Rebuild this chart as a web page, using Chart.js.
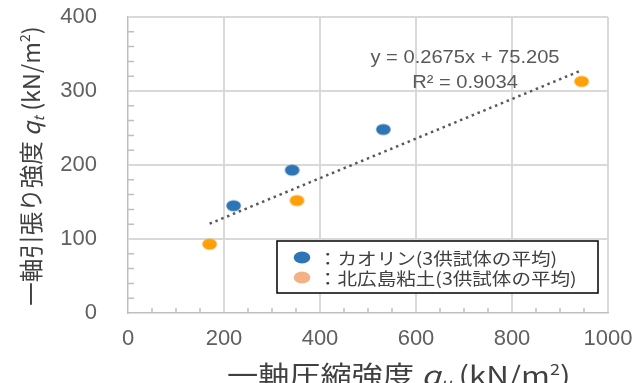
<!DOCTYPE html>
<html>
<head>
<meta charset="utf-8">
<script src="https://cdn.jsdelivr.net/npm/chart.js@4.4.1/dist/chart.umd.min.js"></script>
<style>
  html, body { margin: 0; padding: 0; background: #ffffff; }
  #wrap { width: 636px; height: 383px; }
</style>
</head>
<body>
<div id="wrap"><canvas id="c" width="636" height="383"></canvas></div>
<script>
// Series: mean of three specimens for each soil
const kaolinLabel = 'カオリン(3供試体の平均)';
const hiroshimaLabel = '北広島粘土(3供試体の平均)';
const kaolinQu = [220, 342, 532];      // unconfined compressive strength qu (kN/m²)
const kaolinQt = [145, 193, 248];      // uniaxial tensile strength qt (kN/m²)
const hiroshimaQu = [170, 352, 945];
const hiroshimaQt = [93, 152, 313];

// Linear trend over both soils
const trendCoef = [0.2675, 75.205];    // slope, intercept
const trendR2 = [0.9034];

// Axis ticks
const xTickValues = [0, 200, 400, 600, 800, 1000];
const yTickValues = [0, 100, 200, 300, 400];

const BLUE = '#2E75B6';
const ORANGE = '#FFA00A';
const LEGEND_COLORS = ['#2E75B6', '#F4B183'];
const JP = '"Noto Sans CJK JP", "Noto Sans", sans-serif';

function ellipseMarker(color, rx, ry) {
  const c = document.createElement('canvas');
  c.width = Math.ceil(rx * 2 + 2);
  c.height = Math.ceil(ry * 2 + 2);
  const g = c.getContext('2d');
  g.fillStyle = color;
  g.beginPath();
  g.ellipse(c.width / 2, c.height / 2, rx, ry, 0, 0, Math.PI * 2);
  g.fill();
  return c;
}

const toPoints = (xs, ys) => xs.map((v, i) => ({ x: v, y: ys[i] }));
const quAll = kaolinQu.concat(hiroshimaQu);
const trendX = [Math.min(...quAll), Math.max(...quAll)];
const trendPts = trendX.map(v => ({ x: v, y: trendCoef[0] * v + trendCoef[1] }));

// Draws a sequence of differently styled text runs on one baseline
function measureRuns(ctx, runs) {
  let w = 0;
  for (const r of runs) { ctx.font = r.font; w += ctx.measureText(r.text).width; }
  return w;
}
function drawRuns(ctx, runs, x, y) {
  let cx = x;
  for (const r of runs) {
    ctx.font = r.font;
    ctx.fillText(r.text, cx, y + (r.dy || 0));
    cx += ctx.measureText(r.text).width;
  }
}

const minorTicks = {
  id: 'minorTicks',
  beforeDatasetsDraw(chart) {
    const { ctx, chartArea: a, scales: { x, y } } = chart;
    ctx.save();
    ctx.strokeStyle = '#BFBFBF';
    ctx.lineWidth = 1.5;
    ctx.beginPath();
    for (let v = 50; v < 1000; v += 50) {
      if (v % 200 === 0) continue;
      const px = x.getPixelForValue(v);
      ctx.moveTo(px, a.bottom); ctx.lineTo(px, a.bottom - 5);
    }
    for (let v = 20; v < 400; v += 20) {
      if (v % 100 === 0) continue;
      const py = y.getPixelForValue(v);
      ctx.moveTo(a.left, py); ctx.lineTo(a.left + 6, py);
    }
    ctx.stroke();
    ctx.restore();
  }
};

const annotations = {
  id: 'annotations',
  afterDatasetsDraw(chart) {
    const ctx = chart.ctx;
    ctx.save();

    // trend equation
    ctx.fillStyle = '#595959';
    ctx.textAlign = 'center';
    ctx.textBaseline = 'middle';
    ctx.font = '17.5px "Liberation Sans", Arial, sans-serif';
    const eqLines = [
      'y = ' + trendCoef[0] + 'x + ' + trendCoef[1],
      'R² = ' + trendR2[0]
    ];
    [[465, 58], [465, 83]].forEach((p, i) => {
      ctx.save();
      ctx.translate(p[0], p[1]);
      ctx.scale(1.15, 1);
      ctx.fillText(eqLines[i], 0, 0);
      ctx.restore();
    });

    // legend box
    ctx.fillStyle = '#ffffff';
    ctx.fillRect(277, 241, 321, 52);
    ctx.strokeStyle = '#000000';
    ctx.lineWidth = 1.5;
    ctx.strokeRect(277, 241, 321, 52);
    const labels = [kaolinLabel, hiroshimaLabel];
    [257.5, 277.5].forEach((yy, i) => {
      ctx.fillStyle = LEGEND_COLORS[i];
      ctx.beginPath();
      ctx.ellipse(302, yy, 8.3, 5.9, 0, 0, Math.PI * 2);
      ctx.fill();
      ctx.save();
      ctx.translate(318, yy + 1);
      ctx.scale(1.15, 1);
      ctx.fillStyle = '#404040';
      ctx.textAlign = 'left';
      ctx.textBaseline = 'middle';
      ctx.font = '17px ' + JP;
      ctx.fillText('：' + labels[i], 0, 0);
      ctx.restore();
    });

    // axis titles
    ctx.fillStyle = '#404040';
    ctx.textAlign = 'left';
    ctx.textBaseline = 'alphabetic';
    const big = 26, small = 15;
    const xRuns = [
      { text: '一軸圧縮強度 ', font: big + 'px ' + JP },
      { text: 'q', font: 'italic ' + big + 'px ' + JP },
      { text: 'u', font: 'italic ' + small + 'px ' + JP, dy: 4 },
      { text: ' (kN/m', font: big + 'px ' + JP },
      { text: '2', font: small + 'px ' + JP, dy: -10 },
      { text: ')', font: big + 'px ' + JP }
    ];
    ctx.save();
    ctx.translate(227, 385);
    ctx.scale(1.2, 1);
    drawRuns(ctx, xRuns, 0, 0);
    ctx.restore();

    const yb = 23.5, ys = 14;
    const yRuns = [
      { text: '一軸引張り強度 ', font: yb + 'px ' + JP },
      { text: 'q', font: 'italic ' + yb + 'px ' + JP },
      { text: 't', font: 'italic ' + ys + 'px ' + JP, dy: 4 },
      { text: ' (kN/m', font: yb + 'px ' + JP },
      { text: '2', font: ys + 'px ' + JP, dy: -10 },
      { text: ')', font: yb + 'px ' + JP }
    ];
    const yw = measureRuns(ctx, yRuns);
    ctx.save();
    ctx.translate(40, 166);
    ctx.rotate(-Math.PI / 2);
    drawRuns(ctx, yRuns, -yw / 2, 0);
    ctx.restore();

    ctx.restore();
  }
};

const tickFont = { family: '"Liberation Sans", Arial, sans-serif', size: 22 };

new Chart(document.getElementById('c'), {
  type: 'scatter',
  data: {
    datasets: [
      {
        label: kaolinLabel,
        data: toPoints(kaolinQu, kaolinQt),
        pointStyle: ellipseMarker(BLUE, 7.3, 5.6),
        pointRadius: 7,
        backgroundColor: BLUE,
        borderWidth: 0,
        order: 1
      },
      {
        label: hiroshimaLabel,
        data: toPoints(hiroshimaQu, hiroshimaQt),
        pointStyle: ellipseMarker(ORANGE, 7.3, 5.6),
        pointRadius: 7,
        backgroundColor: ORANGE,
        borderWidth: 0,
        order: 1
      },
      {
        type: 'line',
        label: 'trend',
        data: trendPts,
        borderColor: '#595959',
        borderWidth: 2.5,
        borderDash: [2.5, 3.8],
        borderCapStyle: 'butt',
        pointRadius: 0,
        fill: false,
        order: 2
      }
    ]
  },
  options: {
    responsive: false,
    animation: false,
    events: [],
    layout: { padding: { left: 0, right: 28, top: 17, bottom: 0 } },
    plugins: { legend: { display: false }, tooltip: { enabled: false }, title: { display: false } },
    scales: {
      x: {
        type: 'linear',
        min: 0, max: 1000,
        afterBuildTicks: s => { s.ticks = xTickValues.map(v => ({ value: v })); },
        afterFit: s => { s.height = 70; s.paddingLeft = 0; s.paddingRight = 0; },
        grid: {
          color: c => (c.tick && c.tick.value === 0 ? 'rgba(0,0,0,0)' : '#D9D9D9'),
          lineWidth: 2,
          drawTicks: false
        },
        border: { color: '#BFBFBF', width: 1.5 },
        ticks: { font: tickFont, color: '#606060', padding: 13, maxRotation: 0, callback: v => String(v) }
      },
      y: {
        type: 'linear',
        min: 0, max: 400,
        afterBuildTicks: s => { s.ticks = yTickValues.map(v => ({ value: v })); },
        afterFit: s => { s.width = 128; s.paddingTop = 0; s.paddingBottom = 0; },
        grid: {
          color: c => (c.tick && c.tick.value === 0 ? 'rgba(0,0,0,0)' : '#D9D9D9'),
          lineWidth: 2,
          drawTicks: false
        },
        border: { color: '#BFBFBF', width: 1.5 },
        ticks: { font: tickFont, color: '#606060', padding: 31, callback: v => String(v) }
      }
    }
  },
  plugins: [minorTicks, annotations]
});
</script>
</body>
</html>
